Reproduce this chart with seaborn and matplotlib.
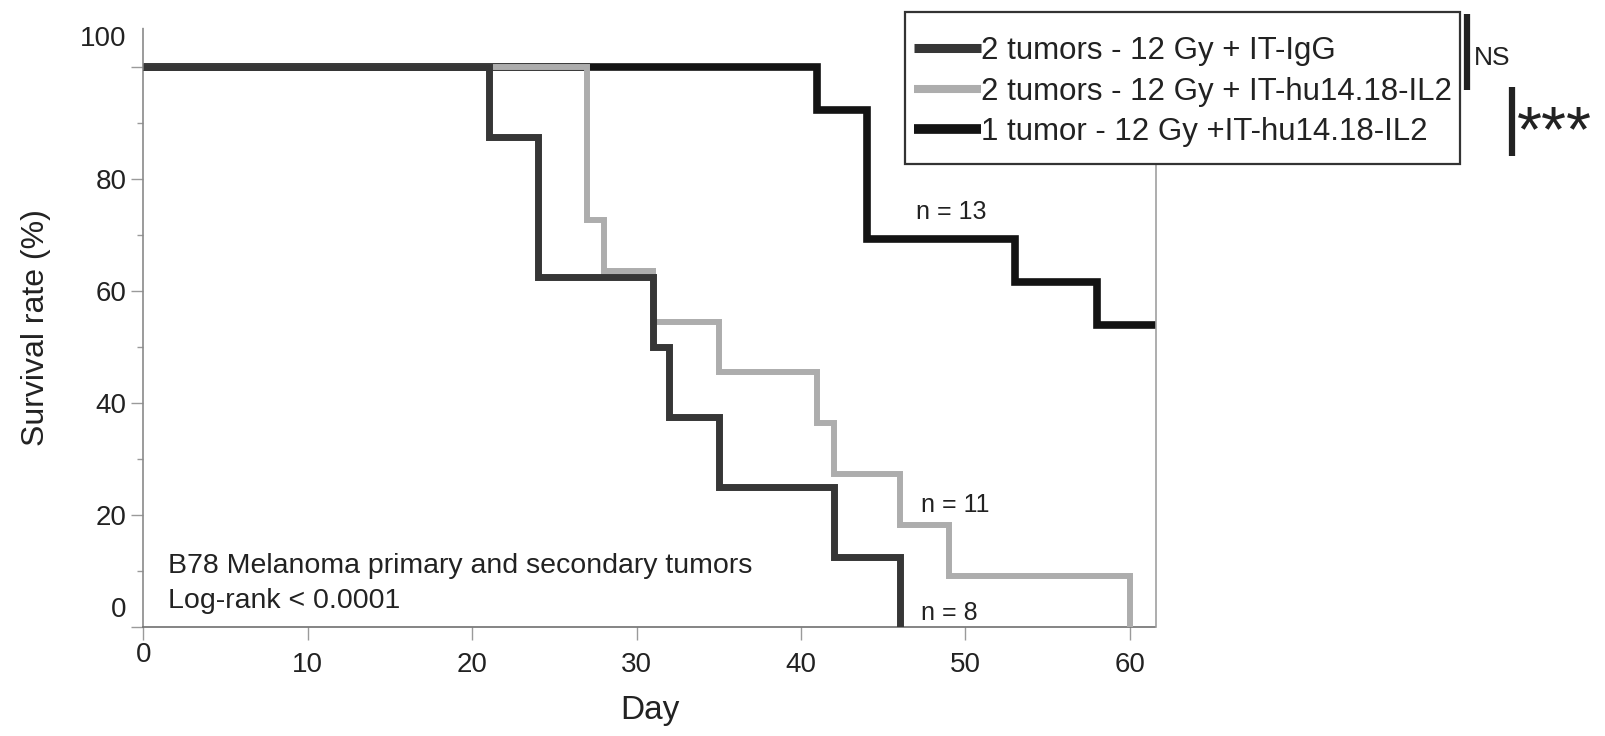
import numpy as np
import pandas as pd
import matplotlib
matplotlib.use("Agg")
import matplotlib.pyplot as plt
import seaborn as sns
from matplotlib.lines import Line2D
from matplotlib.patches import Rectangle
from matplotlib.transforms import ScaledTranslation

# ---------------- data ----------------
group_names = ["2 tumors - 12 Gy + IT-IgG",
               "2 tumors - 12 Gy + IT-hu14.18-IL2",
               "1 tumor - 12 Gy +IT-hu14.18-IL2"]
igg_days = [0, 21, 24, 31, 32, 35, 42, 46]
igg_surv = [100, 87.5, 62.5, 50.0, 37.5, 25.0, 12.5, 0]
hu2_days = [0, 27, 28, 31, 35, 41, 42, 46, 49, 60]
hu2_surv = [100, 72.7, 63.6, 54.5, 45.5, 36.4, 27.3, 18.2, 9.1, 0]
hu1_days = [0, 41, 44, 53, 58, 62]
hu1_surv = [100, 92.3, 69.2, 61.5, 53.8, 53.8]
n_labels = ["n = 8", "n = 11", "n = 13"]
x_ticks = [0, 10, 20, 30, 40, 50, 60]
y_ticks = [0, 20, 40, 60, 80, 100]

colors = {group_names[0]: "#363636", group_names[1]: "#adadad", group_names[2]: "#131313"}
widths = {group_names[0]: 5.0, group_names[1]: 4.3, group_names[2]: 5.5}

df = pd.concat([
    pd.DataFrame({"Day": igg_days, "Survival": igg_surv, "Group": group_names[0]}),
    pd.DataFrame({"Day": hu2_days, "Survival": hu2_surv, "Group": group_names[1]}),
    pd.DataFrame({"Day": hu1_days, "Survival": hu1_surv, "Group": group_names[2]}),
], ignore_index=True)

sns.set_theme(style="white")
plt.rcParams["font.family"] = ["Liberation Sans", "DejaVu Sans"]

W, H = 1606, 736
fig = plt.figure(figsize=(W / 100, H / 100), dpi=100)
ax = fig.add_axes([143.4 / W, (H - 627) / H, 61.6 * 16.44 / W, 107 * 5.605 / H])

# draw order: black bottom, light gray middle, dark gray top
for z, g in enumerate([group_names[2], group_names[1], group_names[0]]):
    sub = df[df["Group"] == g]
    sns.lineplot(data=sub, x="Day", y="Survival", ax=ax, estimator=None, sort=False,
                 drawstyle="steps-post", color=colors[g], linewidth=widths[g],
                 solid_joinstyle="miter", solid_capstyle="butt", legend=False, zorder=2 + z)

ax.set_xlim(0, 61.6)
ax.set_ylim(0, 107)
ax.set_xticks(x_ticks)
ax.set_yticks(y_ticks)
ax.set_yticks([10, 30, 50, 70, 90], minor=True)
ax.set_xticklabels([str(v) for v in x_ticks])
ax.set_yticklabels([str(v) for v in y_ticks])

for side in ["left", "bottom", "right"]:
    ax.spines[side].set_visible(True)
    ax.spines[side].set_linestyle((0, (1, 1)))
    ax.spines[side].set_linewidth(1.2)
ax.spines["left"].set_color("#8a8a8a")
ax.spines["bottom"].set_color("#707070")
ax.spines["right"].set_color("#a0a0a0")
ax.spines["top"].set_visible(False)

ax.tick_params(axis="both", which="both", direction="out", color="#9a9a9a", width=1)
ax.tick_params(axis="x", which="major", length=9, pad=9, labelsize=20, labelcolor="#222222")
ax.tick_params(axis="y", which="major", length=9, pad=3, labelsize=20, labelcolor="#222222",
               left=True)
ax.tick_params(axis="y", which="minor", length=4, left=True)
ax.tick_params(axis="x", bottom=True)

# shift a few tick labels as in the reference
yt = ax.yaxis.get_major_ticks()
yt[-1].label1.set_transform(yt[-1].label1.get_transform() + ScaledTranslation(0, 0.31, fig.dpi_scale_trans))
yt[0].label1.set_transform(yt[0].label1.get_transform() + ScaledTranslation(0, 0.20, fig.dpi_scale_trans))
xt = ax.xaxis.get_major_ticks()
xt[0].label1.set_transform(xt[0].label1.get_transform() + ScaledTranslation(0, 0.10, fig.dpi_scale_trans))

ax.set_xlabel("Day", fontsize=24, color="#222222", labelpad=12)
ax.set_ylabel("Survival rate (%)", fontsize=23, color="#222222", labelpad=21)

# annotations
ax.text(47.0, 74.1, n_labels[2], fontsize=18, va="center", ha="left", color="#222222")
ax.text(47.3, 21.8, n_labels[1], fontsize=18, va="center", ha="left", color="#222222")
ax.text(47.3, 2.5, n_labels[0], fontsize=18, va="center", ha="left", color="#222222")
ax.text(1.5, 10.9, "B78 Melanoma primary and secondary tumors", fontsize=20.5,
        va="center", ha="left", color="#222222")
ax.text(1.5, 4.6, "Log-rank < 0.0001", fontsize=20.5, va="center", ha="left", color="#222222")

# legend frame (drawn separately so the padding can match the reference)
frame = Rectangle((905 / W, 1 - 164 / H), (1460 - 905) / W, (164 - 12) / H,
                  transform=fig.transFigure, facecolor="white", edgecolor="#333333",
                  linewidth=1.6, zorder=4.5)
fig.add_artist(frame)

handles = [Line2D([], [], color=colors[g], linewidth=widths[g] + 1.5, solid_capstyle="butt")
           for g in group_names]
leg = fig.legend(handles, group_names, loc="upper right",
                 bbox_to_anchor=(1458 / W, 1 - 30 / H), bbox_transform=fig.transFigure,
                 fontsize=22.5, frameon=False, handlelength=2.15, handletextpad=0.0,
                 labelspacing=0.33, borderpad=0.2, borderaxespad=0)
leg.set_zorder(5)
for txt in leg.get_texts():
    txt.set_color("#222222")

# significance bars
fig.add_artist(Line2D([1467 / W, 1467 / W], [1 - 14 / H, 1 - 90 / H], color="#222222",
                      linewidth=4.5, transform=fig.transFigure, solid_capstyle="butt"))
fig.text(1474 / W, 1 - 58 / H, "NS", fontsize=19, va="center", ha="left", color="#222222")
fig.add_artist(Line2D([1512 / W, 1512 / W], [1 - 87 / H, 1 - 156 / H], color="#222222",
                      linewidth=4.5, transform=fig.transFigure, solid_capstyle="butt"))
fig.text(1517 / W, 1 - 134 / H, "***", fontsize=46, va="center", ha="left",
         color="#222222")

fig.savefig("out.png", dpi=100)
